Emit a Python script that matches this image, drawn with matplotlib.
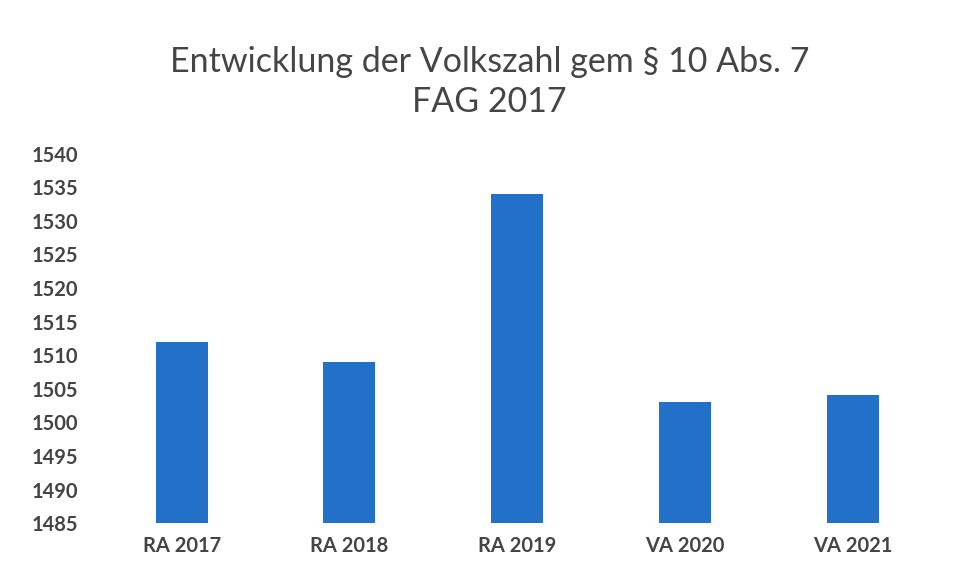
import matplotlib.pyplot as plt

categories = ["RA 2017", "RA 2018", "RA 2019", "VA 2020", "VA 2021"]
values = [1512, 1509, 1534, 1503, 1504]
yticks = list(range(1485, 1541, 5))

plt.rcParams['font.family'] = ['Lato', 'DejaVu Sans']
grey = "#444444"

fig = plt.figure(figsize=(9.58, 5.78), dpi=100)
ax = fig.add_axes([0.102, 0.095, 0.876, 0.639])

x = range(len(categories))
ax.bar(x, values, width=0.31, color="#2270c8", bottom=0)
ax.set_ylim(1485, 1540)
ax.set_xlim(-0.5, len(categories) - 0.5)
ax.set_yticks(yticks)
ax.set_xticks(list(x))
ax.set_xticklabels(categories)

for s in ax.spines.values():
    s.set_visible(False)
ax.tick_params(length=0)
ax.tick_params(axis='y', pad=14)
ax.tick_params(axis='x', pad=9)
for lab in ax.get_yticklabels() + ax.get_xticklabels():
    lab.set_fontsize(14.5)
    lab.set_fontweight('bold')
    lab.set_color(grey)

fig.text(0.511, 0.893, "Entwicklung der Volkszahl gem § 10 Abs. 7", ha='center',
         va='center', fontsize=24.5, color="#454545")
fig.text(0.511, 0.823, "FAG 2017", ha='center', va='center', fontsize=24.5,
         color="#454545")

fig.savefig("out.png", dpi=100)
